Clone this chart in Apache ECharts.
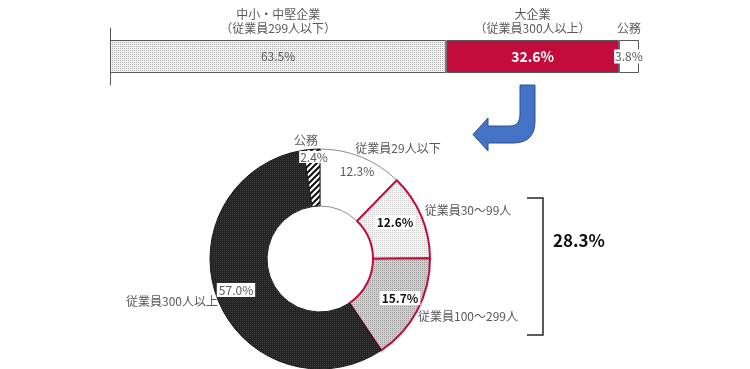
<!DOCTYPE html>
<html><head><meta charset="utf-8">
<script src="https://cdn.jsdelivr.net/npm/echarts@6/dist/echarts.min.js"></script>
<style>html,body{margin:0;padding:0;background:#fff}#c{width:750px;height:369px}</style>
</head><body><div id="c"></div>
<script>
// ---- data ----
const barCategories = ['中小・中堅企業\n（従業員299人以下）', '大企業\n（従業員300人以上）', '公務'];
const barValues = [63.5, 32.6, 3.8];
const pieCategories = ['従業員29人以下', '従業員30～99人', '従業員100～299人', '従業員300人以上', '公務'];
const pieValues = [12.3, 12.6, 15.7, 57.0, 2.4];
const bracketIdx = [1, 2]; // slices summed by the bracket

// ---- layout (label anchor positions, not data) ----
const pctPos = [[357,171],[395,222],[400,298],[236,290],[314,157]];
const namePos = [[398,148],[468,210],[468,316],[172,301],[306,140]];

function dots(bg, dot, size){
  const c=document.createElement('canvas'); c.width=c.height=size;
  const g=c.getContext('2d'); g.fillStyle=bg; g.fillRect(0,0,size,size);
  g.fillStyle=dot; g.fillRect(0,0,1,1); return c;
}
function hatch(){
  const s=6, c=document.createElement('canvas'); c.width=c.height=s;
  const g=c.getContext('2d'); g.fillStyle='#fff'; g.fillRect(0,0,s,s);
  g.strokeStyle='#111'; g.lineWidth=2;
  g.beginPath(); g.moveTo(-1,s+1); g.lineTo(s+1,-1); g.moveTo(-1,1); g.lineTo(1,-1); g.moveTo(s-1,s+1); g.lineTo(s+1,s-1); g.stroke();
  return c;
}
const pat = (c)=>({image:c, repeat:'repeat'});
const lightDots = pat(dots('#f2f2f2','#b0b0b0',2));
const lighterDots = pat(dots('#f7f7f7','#c8c8c8',2));
const grayDots = pat(dots('#cfcfcf','#9a9a9a',2));
const darkDots = pat(dots('#242424','#3a3a3a',2));
const hatchPat = pat(hatch());

const FONT = '"Noto Sans CJK JP", sans-serif';
const CRIMSON = '#C20D3C';
const GRAY_T = '#595959';

const barFills = [lightDots, CRIMSON, '#ffffff'];
const barLabelStyles = [
  {color:GRAY_T, fontSize:12},
  {color:'#fff', fontSize:14, fontWeight:'bold'},
  {color:GRAY_T, fontSize:12, backgroundColor:'#fff', padding:[1,1]}
];

const series = [];
barValues.forEach((v,i)=>{
  series.push({
    type:'bar', stack:'a', yAxisIndex:0, barWidth:33,
    data:[v],
    itemStyle:{color:barFills[i], borderColor:'#595959', borderWidth:1},
    label:Object.assign({show:true, position:'inside', fontFamily:FONT,
      formatter:(p)=>p.value.toFixed(1)+'%'}, barLabelStyles[i]),
    silent:true
  });
  series.push({
    type:'bar', stack:'b', yAxisIndex:1, barWidth:33,
    data:[v],
    itemStyle:{color:'rgba(0,0,0,0)'},
    label:{show:true, position:'top', distance:5, fontFamily:FONT, fontSize:12, lineHeight:14,
      color:GRAY_T, formatter:()=>barCategories[i]},
    silent:true, z:1
  });
});

const pieItemStyles = [
  {color:'#ffffff', borderColor:'#8c8c8c', borderWidth:1},
  {color:lighterDots, borderColor:CRIMSON, borderWidth:2},
  {color:grayDots, borderColor:CRIMSON, borderWidth:2},
  {color:darkDots, borderColor:'#1a1a1a', borderWidth:1},
  {color:hatchPat, borderColor:'#1a1a1a', borderWidth:1}
];
const pctStyles = [
  {color:GRAY_T, fontSize:12},
  {color:'#111', fontSize:12, fontWeight:'bold', backgroundColor:'#fff', padding:[1,2]},
  {color:'#111', fontSize:12, fontWeight:'bold', backgroundColor:'#fff', padding:[1,2]},
  {color:GRAY_T, fontSize:12, backgroundColor:'#fff', padding:[1,2]},
  {color:GRAY_T, fontSize:12, backgroundColor:'#fff', padding:[0,1]}
];
const pieData = pieCategories.map((n,i)=>({name:n, value:pieValues[i], itemStyle:pieItemStyles[i],
  label:pctStyles[i]}));
series.push({
  type:'pie', center:[320,259], radius:[53,110], startAngle:90, clockwise:true,
  avoidLabelOverlap:false, silent:true,
  label:{show:true, position:'inside', fontFamily:FONT, formatter:(p)=>p.value.toFixed(1)+'%'},
  labelLine:{show:false},
  labelLayout:(p)=>({x:pctPos[p.dataIndex][0], y:pctPos[p.dataIndex][1], align:'center', verticalAlign:'middle'}),
  data:pieData, z:2
});
series.push({
  type:'pie', center:[320,259], radius:[53,110], startAngle:90, clockwise:true,
  avoidLabelOverlap:false, silent:true,
  itemStyle:{color:'rgba(0,0,0,0)', borderWidth:0},
  label:{show:true, position:'inside', fontFamily:FONT, fontSize:12, color:GRAY_T, formatter:'{b}'},
  labelLine:{show:false},
  labelLayout:(p)=>({x:namePos[p.dataIndex][0], y:namePos[p.dataIndex][1], align:'center', verticalAlign:'middle'}),
  data:pieCategories.map((n,i)=>({name:n, value:pieValues[i]})), z:3
});

const bracketSum = bracketIdx.reduce((s,i)=>s+pieValues[i],0);

// decorative arrow outline (quadratic corners sampled)
function quad(p0,c,p1,n){const out=[];for(let k=1;k<=n;k++){const t=k/n,u=1-t;out.push([u*u*p0[0]+2*u*t*c[0]+t*t*p1[0],u*u*p0[1]+2*u*t*c[1]+t*t*p1[1]]);}return out;}
const arrowPts = [[520,85],[535,85],[535,121]]
  .concat(quad([535,121],[535,143],[513,143],10))
  .concat([[488,143],[488,151],[473,134.5],[488,118],[488,126],[510,126]])
  .concat(quad([510,126],[520,126],[520,114],8));

const chart = echarts.init(document.getElementById('c'), null, {renderer:'canvas'});
chart.setOption({
  animation:false,
  backgroundColor:'#fff',
  textStyle:{fontFamily:FONT},
  grid:{left:110, top:28, width:529, height:57},
  xAxis:{type:'value', min:0, max:barValues.reduce((a,b)=>a+b,0), show:false},
  yAxis:[
    {type:'category', data:[''], axisLine:{show:true, lineStyle:{color:'#595959'}}, axisTick:{show:false}, axisLabel:{show:false}},
    {type:'category', data:[''], show:false}
  ],
  series:series,
  graphic:[
    {type:'polygon', shape:{points:arrowPts},
     style:{fill:'#4472C4', stroke:'#2F528F', lineWidth:1}, silent:true},
    {type:'polyline', shape:{points:[[527,198],[543,198],[543,335],[527,335]]},
     style:{stroke:'#262626', lineWidth:1.5, fill:null}, silent:true},
    {type:'text', left:553, top:232, style:{text:bracketSum.toFixed(1)+'%', font:'bold 17px '+FONT, fill:'#111'}, silent:true}
  ]
});
</script></body></html>
